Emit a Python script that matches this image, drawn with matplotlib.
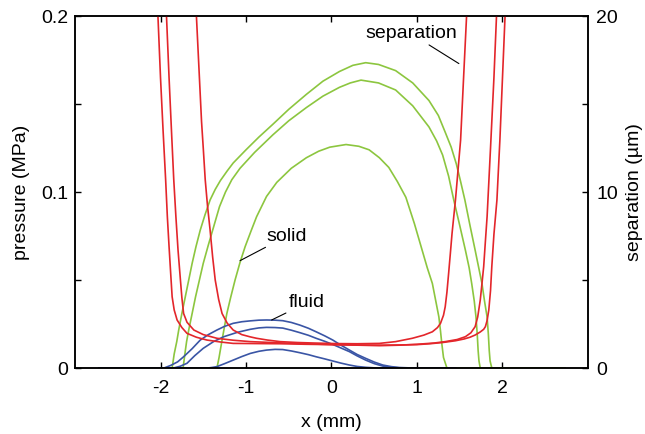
import matplotlib
matplotlib.use('Agg')
import numpy as np
import matplotlib.pyplot as plt

plt.rcParams['font.family'] = ['Liberation Sans', 'DejaVu Sans']
plt.rcParams['font.size'] = 14
plt.rcParams['axes.unicode_minus'] = False

# solid contact pressure (MPa), three load steps
solid1_x = [-2.72, -1.864, -1.84, -1.81, -1.787, -1.75, -1.71, -1.67, -1.63, -1.585, -1.535, -1.48, -1.42,
            -1.36, -1.30, -1.22, -1.15, -1.07, -1.0, -0.85, -0.686, -0.5, -0.294, -0.1, 0.093, 0.25, 0.40,
            0.55, 0.75, 0.95, 1.14, 1.25, 1.33, 1.40, 1.46, 1.51, 1.56, 1.62, 1.68, 1.72, 1.76, 1.79, 1.82,
            1.835, 1.845, 1.855, 1.875, 2.73]
solid1_p = [0, 0, 0.008, 0.015, 0.0216, 0.031, 0.0405, 0.050, 0.0595, 0.069, 0.0784, 0.087, 0.0955,
            0.1015, 0.1065, 0.112, 0.1165, 0.1205, 0.124, 0.1312, 0.1385, 0.147, 0.1555, 0.163, 0.1685, 0.172, 0.1735,
            0.1725, 0.169, 0.162, 0.152, 0.1435, 0.134, 0.1255, 0.116, 0.106, 0.0955, 0.081, 0.067, 0.0575, 0.048, 0.038, 0.029,
            0.019, 0.010, 0.004, 0, 0]
solid2_x = [-2.72, -1.736, -1.715, -1.695, -1.67, -1.63, -1.59, -1.545, -1.50, -1.44, -1.38, -1.31, -1.24,
            -1.166, -1.07, -0.9, -0.686, -0.5, -0.294, -0.1, 0.093, 0.22, 0.345, 0.55, 0.75, 0.95, 1.14,
            1.23, 1.30, 1.37, 1.43, 1.50, 1.566, 1.61, 1.64, 1.67, 1.69, 1.705, 1.715, 1.725, 1.74, 2.73]
solid2_p = [0, 0, 0.008, 0.015, 0.0216, 0.031, 0.0405, 0.050, 0.0595, 0.070, 0.080, 0.0917, 0.100,
            0.107, 0.1135, 0.1225, 0.1325, 0.1405, 0.148, 0.1545, 0.1595, 0.162, 0.1636, 0.162, 0.158, 0.149, 0.137,
            0.129, 0.121, 0.109, 0.0955, 0.081, 0.067, 0.057, 0.048, 0.038, 0.029, 0.019, 0.010, 0.004, 0, 0]
solid3_x = [-2.72, -1.34, -1.315, -1.28, -1.25, -1.224, -1.18, -1.128, -1.07, -1.01, -0.94, -0.876, -0.76,
            -0.64, -0.47, -0.294, -0.15, -0.02, 0.17, 0.32, 0.44, 0.56, 0.67, 0.77, 0.87, 0.97, 1.06, 1.12,
            1.18, 1.22, 1.256, 1.275, 1.29, 1.31, 1.35, 2.73]
solid3_p = [0, 0, 0.006, 0.0159, 0.024, 0.031, 0.040, 0.050, 0.060, 0.069, 0.078, 0.086, 0.0975,
            0.1055, 0.1135, 0.1195, 0.1232, 0.1255, 0.127, 0.126, 0.124, 0.1195, 0.114, 0.106, 0.097, 0.082, 0.067, 0.057,
            0.048, 0.038, 0.029, 0.021, 0.014, 0.006, 0, 0]

# fluid pressure (MPa)
fluid1_x = [-2.72, -1.96, -1.88, -1.80, -1.73, -1.63, -1.535, -1.44, -1.34, -1.25, -1.15, -1.05, -0.95,
            -0.85, -0.76, -0.66, -0.57, -0.47, -0.37, -0.27, -0.18, -0.08, 0.015, 0.11, 0.21, 0.30, 0.40,
            0.50, 0.60, 0.70, 0.79, 0.9, 1.0, 1.45]
fluid1_p = [0, 0, 0.0015, 0.0035, 0.0064, 0.011, 0.0159, 0.019, 0.0216, 0.0237, 0.0254, 0.0263, 0.0268,
            0.0272, 0.0273, 0.0272, 0.0269, 0.0259, 0.0244, 0.0226, 0.0206, 0.0183, 0.0159, 0.0130, 0.0102, 0.0077, 0.0055,
            0.0034, 0.0017, 0.0008, 0.0003, 0.0001, 0, 0]
fluid2_x = [-2.72, -1.85, -1.77, -1.69, -1.60, -1.50, -1.38, -1.26, -1.10, -0.95, -0.85, -0.76, -0.66,
            -0.57, -0.47, -0.37, -0.27, -0.18, -0.08, 0.015, 0.11, 0.21, 0.30, 0.40, 0.50, 0.60, 0.72,
            0.85, 1.45]
fluid2_p = [0, 0, 0.001, 0.0027, 0.007, 0.0112, 0.015, 0.0178, 0.0203, 0.022, 0.0228, 0.0231, 0.023,
            0.0227, 0.0215, 0.0201, 0.0186, 0.0169, 0.0152, 0.0134, 0.0114, 0.0093, 0.0069, 0.0045, 0.0025, 0.0011, 0.0003,
            0, 0]
fluid3_x = [-2.72, -1.45, -1.40, -1.34, -1.25, -1.15, -1.05, -0.95, -0.85, -0.76, -0.66, -0.57, -0.47,
            -0.37, -0.27, -0.18, -0.08, 0.015, 0.11, 0.21, 0.30, 0.40, 0.5, 0.6, 1.45]
fluid3_p = [0, 0, 0.0003, 0.0008, 0.0025, 0.0045, 0.0065, 0.0083, 0.0095, 0.0102, 0.0106, 0.0105, 0.0097,
            0.0087, 0.0076, 0.0064, 0.0052, 0.004, 0.0028, 0.0017, 0.0009, 0.0004, 0.0001, 0, 0]

# separation (um)
sep1_x = [-1.59, -1.58, -1.55, -1.52, -1.50, -1.477, -1.45, -1.42, -1.39, -1.36, -1.32, -1.28, -1.22,
          -1.15, -1.05, -0.95, -0.876, -0.75, -0.6, -0.4, -0.2, 0.05, 0.3, 0.56, 0.75, 0.945, 1.08, 1.18,
          1.24, 1.275, 1.31, 1.33, 1.35, 1.37, 1.39, 1.41, 1.45, 1.51, 1.545, 1.58, 1.59]
sep1_s = [21, 20, 17, 14, 12.5, 10.7, 9.2, 7.84, 6.3, 5.0, 3.9, 3.1, 2.55,
          2.16, 1.90, 1.77, 1.69, 1.59, 1.50, 1.45, 1.42, 1.39, 1.38, 1.40, 1.50, 1.69, 1.87, 2.06,
          2.3, 2.54, 3.0, 3.48, 4.3, 5.38, 6.5, 7.65, 9.55, 12.95, 16.5, 20, 21]
sep2_x = [-1.94, -1.93, -1.90, -1.87, -1.845, -1.82, -1.795, -1.767, -1.75, -1.73, -1.69, -1.61, -1.50,
          -1.34, -1.15, -0.95, -0.6, -0.3, 0.0, 0.3, 0.56, 0.8, 1.0, 1.2, 1.33, 1.47, 1.566, 1.63, 1.68,
          1.71, 1.74, 1.76, 1.78, 1.80, 1.82, 1.86, 1.90, 1.93, 1.94]
sep2_s = [21, 20, 16.5, 13.3, 10.7, 8.6, 6.7, 5.0, 4.0, 3.1, 2.6, 2.16, 1.90,
          1.69, 1.58, 1.50, 1.43, 1.38, 1.33, 1.30, 1.27, 1.30, 1.35, 1.42, 1.50, 1.62, 1.78, 2.0, 2.35,
          2.9, 3.86, 4.8, 5.76, 7.2, 8.6, 12.5, 16.5, 20, 21]
sep3_x = [-2.04, -2.03, -2.00, -1.97, -1.94, -1.92, -1.90, -1.88, -1.864, -1.84, -1.806, -1.75, -1.69,
          -1.58, -1.457, -1.30, -1.15, -0.9, -0.6, -0.3, 0.0, 0.3, 0.6, 0.8, 1.0, 1.15, 1.3, 1.45, 1.55,
          1.62, 1.68, 1.74, 1.78, 1.80, 1.82, 1.84, 1.86, 1.875, 1.90, 1.935, 1.97, 2.00, 2.03, 2.04]
sep3_s = [21, 20, 16.5, 13.5, 10.7, 8.6, 6.9, 5.3, 4.05, 3.3, 2.73, 2.3, 1.97,
          1.75, 1.59, 1.48, 1.40, 1.39, 1.38, 1.35, 1.33, 1.31, 1.30, 1.31, 1.33, 1.38, 1.45, 1.55, 1.65,
          1.75, 1.875, 2.05, 2.2, 2.35, 2.7, 3.3, 4.4, 5.76, 7.6, 9.55, 13, 16.5, 20, 21]

red = '#e3262b'
green = '#8cc63f'
blue = '#3a55a5'

fig = plt.figure(figsize=(6.45, 4.34), dpi=100)
ax = fig.add_axes([0.1163, 0.152, 0.7953, 0.811])

for x, p in [(solid1_x, solid1_p), (solid2_x, solid2_p), (solid3_x, solid3_p)]:
    ax.plot(x, p, color=green, lw=1.2)
for x, p in [(fluid1_x, fluid1_p), (fluid2_x, fluid2_p), (fluid3_x, fluid3_p)]:
    ax.plot(x, p, color=blue, lw=1.2)

ax.set_xlim(-3, 3)
ax.set_ylim(0, 0.2)
ax.set_xticks([-2, -1, 0, 1, 2])
ax.set_yticks([0, 0.1, 0.2])
ax.set_yticklabels(['0', '0.1', '0.2'])
ax.set_yticks([0.05, 0.15], minor=True)
ax.tick_params(axis='both', which='both', direction='in', length=4, width=1)
ax.tick_params(axis='x', top=True, pad=8.5)
ax.tick_params(axis='y', right=False, pad=5)
ax.set_xlabel('x (mm)', labelpad=12)
ax.set_ylabel('pressure (MPa)', labelpad=8)
for s in ax.spines.values():
    s.set_linewidth(1.1)

ax2 = ax.twinx()
for x, s in [(sep1_x, sep1_s), (sep2_x, sep2_s), (sep3_x, sep3_s)]:
    ax2.plot(x, s, color=red, lw=1.2)
ax2.set_ylim(0, 20)
ax2.set_yticks([0, 10, 20])
ax2.set_yticks([5, 15], minor=True)
ax2.tick_params(axis='y', which='both', direction='in', length=4, width=1, pad=6)
ax2.set_ylabel('separation (\u00b5m)', labelpad=6)
for s in ax2.spines.values():
    s.set_linewidth(1.1)

arrow = dict(arrowstyle='-', color='k', lw=0.8, shrinkA=0, shrinkB=0)
ax.annotate('separation', xy=(1.49, 0.173), xytext=(0.93, 0.19), ha='center', va='center',
            arrowprops=arrow)
ax.annotate('solid', xy=(-1.07, 0.061), xytext=(-0.52, 0.075), ha='center', va='center',
            arrowprops=arrow)
ax.annotate('fluid', xy=(-0.70, 0.0273), xytext=(-0.29, 0.037), ha='center', va='center',
            arrowprops=arrow)

fig.savefig('out.png', dpi=100)
